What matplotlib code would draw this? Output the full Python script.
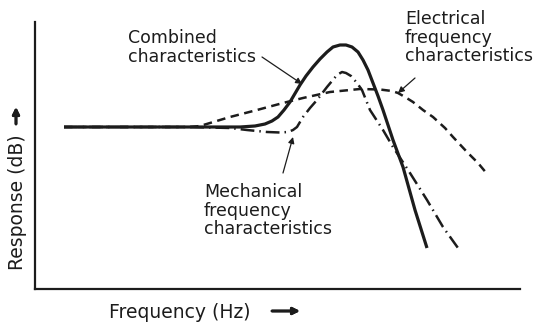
import matplotlib.pyplot as plt

plt.rcParams['font.family'] = 'DejaVu Sans'
ink = '#1c1c1c'

# response curves, frequency and response in arbitrary units (no ticks shown)
comb_f = [29, 155, 205, 220, 230, 237, 243, 249, 255, 265, 271, 278, 285, 292, 298,
          305, 311, 317, 323, 328, 333, 338, 343, 348, 358, 368, 380, 392]
comb_r = [162, 162, 162, 163, 165, 168, 172, 179, 187, 204, 213, 222, 230, 237, 242,
          244, 244, 242, 237, 229, 219, 206, 193, 179, 149, 122, 79, 41]

mech_f = [29, 155, 195, 212, 232, 245, 253, 258, 262, 268, 275, 282, 292, 302, 307,
          311, 316, 322, 327, 335, 348, 358, 375, 392, 408, 423]
mech_r = [162, 162, 161, 159, 157, 156.5, 157, 159, 162, 172, 181, 189, 202, 214, 217,
          216, 213, 206, 199, 179, 159, 142, 116, 89, 62, 41]

elec_f = [29, 155, 165, 175, 195, 222, 248, 268, 295, 325, 345, 357, 363, 370, 378,
          388, 398, 410, 418, 432, 443, 453]
elec_r = [162, 162, 163, 166, 172, 179, 186, 191, 197, 200, 199.5, 198, 196, 192, 187,
          179, 172, 161, 152, 137, 126, 114]

fig = plt.figure(figsize=(5.39, 3.24), dpi=100)
ax = fig.add_axes([35 / 539, 35 / 324, 485 / 539, 267 / 324])
ax.set_xlim(0, 485)
ax.set_ylim(0, 267)

ax.plot(elec_f, elec_r, color=ink, lw=1.8, linestyle=(0, (3.4, 2.2)),
        clip_on=False)
ax.plot(mech_f, mech_r, color=ink, lw=1.8, linestyle=(0, (5.5, 2.0, 0.6, 2.0)),
        clip_on=False)
ax.plot(comb_f, comb_r, color=ink, lw=2.3, solid_joinstyle='round',
        solid_capstyle='butt', clip_on=False)

for s in ['top', 'right']:
    ax.spines[s].set_visible(False)
for s in ['left', 'bottom']:
    ax.spines[s].set_linewidth(1.6)
    ax.spines[s].set_color(ink)
ax.set_xticks([])
ax.set_yticks([])

txt = dict(fontsize=12.5, color=ink, va='top', ha='left', linespacing=1.05,
           clip_on=False)
ax.text(93, 260, 'Combined\ncharacteristics', **txt)
ax.text(370, 279, 'Electrical\nfrequency\ncharacteristics', **txt)
ax.text(169, 106, 'Mechanical\nfrequency\ncharacteristics', **txt)

arr = dict(arrowstyle='-|>', color=ink, lw=0.9, mutation_scale=9,
           shrinkA=0, shrinkB=0)
ax.annotate('', xy=(267, 205), xytext=(227, 232), arrowprops=arr,
            annotation_clip=False)
ax.annotate('', xy=(363, 196), xytext=(380, 211), arrowprops=arr,
            annotation_clip=False)
ax.annotate('', xy=(258, 152), xytext=(248, 116), arrowprops=arr,
            annotation_clip=False)

# axis labels with their direction arrows
fig.text(180 / 539, 1 - 313 / 324, 'Frequency (Hz)', fontsize=13.5, color=ink,
         ha='center', va='center')
fig.text(18 / 539, 1 - 202 / 324, 'Response (dB)', fontsize=13.5, color=ink,
         ha='center', va='center', rotation=90)
big = dict(arrowstyle='-|>', color=ink, lw=2.0, mutation_scale=10,
           shrinkA=0, shrinkB=0)
fig.add_artist(plt.annotate('', xy=(300 / 539, 1 - 311 / 324),
                            xytext=(272 / 539, 1 - 311 / 324),
                            xycoords='figure fraction', textcoords='figure fraction',
                            arrowprops=big))
fig.add_artist(plt.annotate('', xy=(16 / 539, 1 - 107 / 324),
                            xytext=(16 / 539, 1 - 124 / 324),
                            xycoords='figure fraction', textcoords='figure fraction',
                            arrowprops=big))

fig.savefig('out.png', dpi=100)
